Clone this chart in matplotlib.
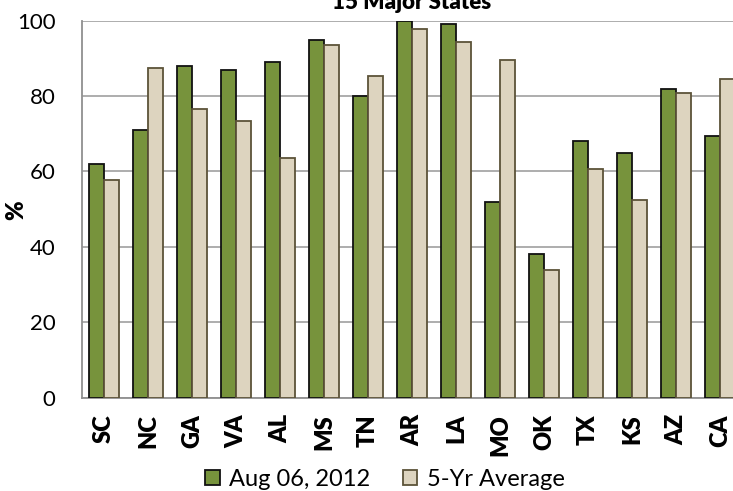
import matplotlib
matplotlib.use("Agg")
import matplotlib.pyplot as plt
import numpy as np

states = ["SC", "NC", "GA", "VA", "AL", "MS", "TN", "AR", "LA", "MO", "OK", "TX", "KS", "AZ", "CA"]
aug_2012 = [62, 71, 88, 87, 89, 95, 80, 100, 99, 52, 38, 68, 65, 82, 69.5]
avg_5yr = [57.6, 87.5, 76.5, 73.5, 63.6, 93.6, 85.3, 97.7, 94.4, 89.6, 33.8, 60.6, 52.5, 80.7, 84.6]
yticks = [0, 20, 40, 60, 80, 100]
title = "15 Major States"
series_names = ["Aug 06, 2012", "5-Yr Average"]

plt.rcParams['font.family'] = ['Lato', 'DejaVu Sans']

fig = plt.figure(figsize=(7.33, 4.91), dpi=100)
ax = fig.add_axes([82/733, (491-397.5)/491, (742-82)/733, (397.5-20.7)/491])

x = np.arange(len(states))
w = 0.342
green = "#77933C"
tan = "#DDD4BF"
b1 = ax.bar(x - w/2, aug_2012, w, color=green, edgecolor="#111111", linewidth=1.3, zorder=3, label=series_names[0])
b2 = ax.bar(x + w/2, avg_5yr, w, color=tan, edgecolor="#5C5338", linewidth=1.3, zorder=3, label=series_names[1])

ax.set_xlim(-0.5, len(states) - 0.5)
ax.set_ylim(0, 100)
ax.set_yticks(yticks)
ax.set_xticks(x)
ax.set_xticklabels(states, rotation=90, fontweight='heavy', fontsize=17)
ax.tick_params(axis='y', labelsize=16, length=0, pad=19)
ax.tick_params(axis='x', length=0, pad=12)
ax.yaxis.grid(True, color="#A0A0A0", linewidth=1.2, zorder=0)
ax.set_axisbelow(True)
for s in ["top", "right"]:
    ax.spines[s].set_visible(False)
for s in ["left", "bottom"]:
    ax.spines[s].set_color("#909090")
    ax.spines[s].set_linewidth(1.3)

fig.text(16/733, (491-210)/491, "%", rotation=90, fontweight='heavy', fontsize=17, ha='center', va='center')
fig.text(412/733, (491-9)/491, title, fontweight='heavy', fontsize=16, ha='center', va='baseline')

fig.legend(handles=[b1, b2], labels=series_names, loc='center', bbox_to_anchor=(385/733, (491-479)/491),
           ncol=2, frameon=False, fontsize=17, handlelength=0.6, handleheight=0.6,
           handletextpad=0.4, columnspacing=1.4, borderpad=0)

fig.savefig("out.png", dpi=100)
